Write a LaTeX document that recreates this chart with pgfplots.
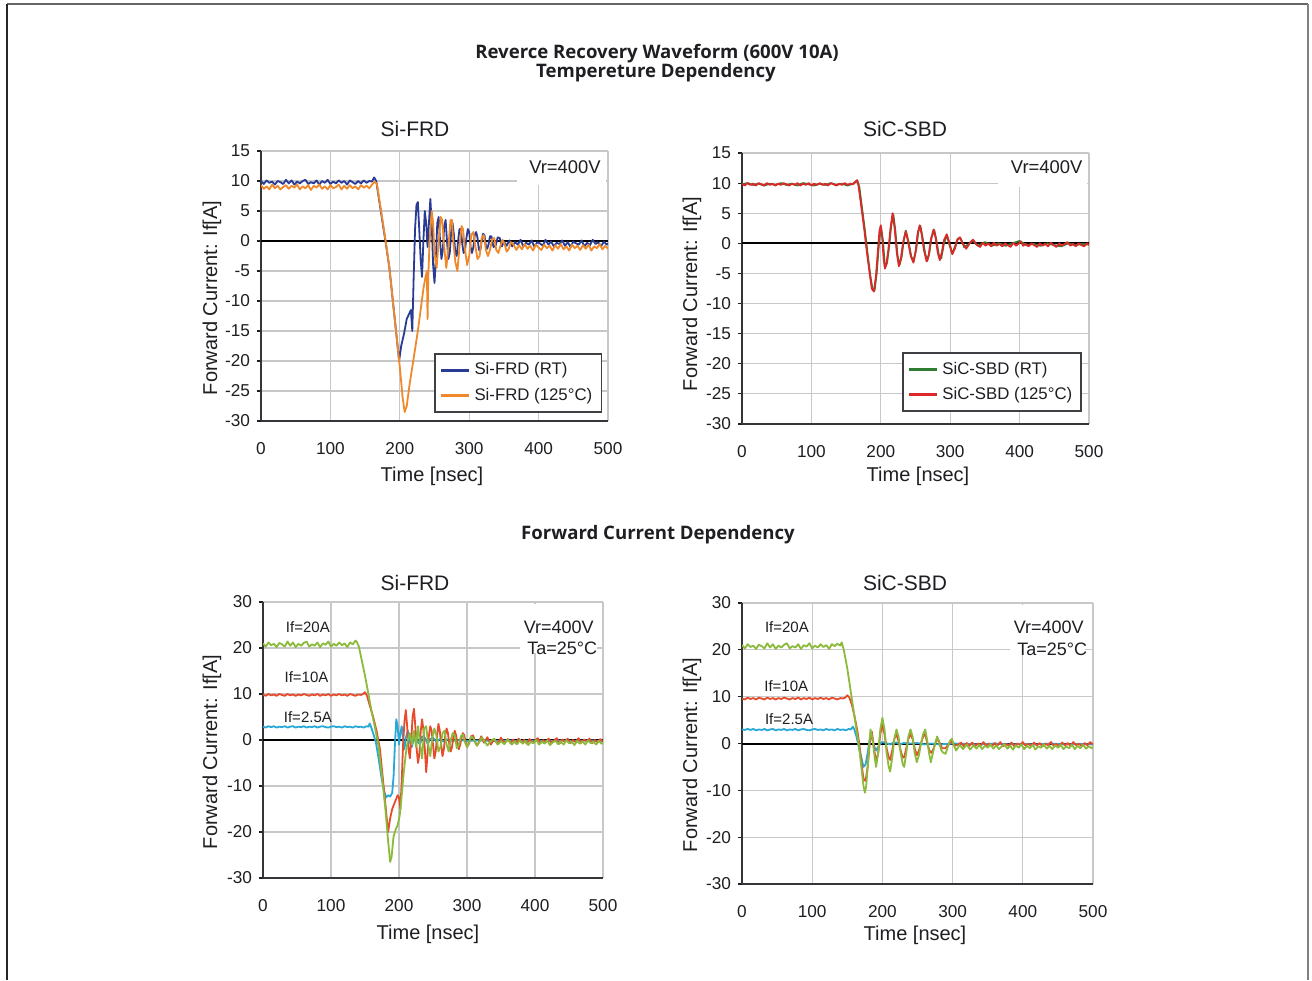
\documentclass[border=0pt]{standalone}
\usepackage{pgfplots}
\pgfplotsset{compat=1.18}
\usepackage{fontspec}
\setmainfont{Liberation Sans}
\newfontfamily\titlefont{Open Sans}
\definecolor{frdrt}{RGB}{40,60,150}
\definecolor{frdht}{RGB}{240,137,42}
\definecolor{sicrt}{RGB}{46,125,50}
\definecolor{sicht}{RGB}{220,40,40}
\definecolor{cA}{RGB}{140,186,58}
\definecolor{cB}{RGB}{230,75,44}
\definecolor{cC}{RGB}{40,168,216}
\definecolor{gridc}{RGB}{200,200,200}
\definecolor{txt}{RGB}{30,30,35}
\pgfplotsset{
  legend image code/.code={\draw[#1,line width=1.3pt] (0pt,0pt) -- (14pt,0pt);},
  wave/.style={
    scale only axis, anchor=south west,
    xmin=0, xmax=500, xtick={0,100,...,500},
    axis lines=left, axis line style={-, draw=txt!90, line width=0.8pt},
    grid=major, grid style={gridc, line width=0.6pt},
    tick align=outside, major tick length=2pt,
    xtick style={draw=none},
    ytick style={draw=txt, line width=0.6pt},
    ticklabel style={font=\fontsize{8.6}{10}\selectfont, text=txt},
    xticklabel style={yshift=-5pt},
    /pgf/number format/assume math mode=true,
    every axis plot/.append style={line width=0.9pt, line join=round},
    legend style={draw=txt!85, line width=0.8pt, font=\fontsize{8.4}{10}\selectfont, text=txt, cells={anchor=west}, row sep=1pt, inner sep=2.5pt},
  },
}
\begin{document}
\begin{tikzpicture}[x=0.5pt,y=0.5pt]
\useasboundingbox (0,0) rectangle (1312,980);
\fill[white] (0,0) rectangle (1312,980);
\draw[black!60, line width=1pt] (7,976) -- (1308,976);
\draw[black!85, line width=1pt] (7,976) -- (7,0);
\draw[black!50, line width=1pt] (1308,976) -- (1308,0);

% headings
\node[font=\titlefont\bfseries\fontsize{9.3}{11}\selectfont, text=txt] at (657,926) {Reverce Recovery Waveform (600V 10A)};
\node[font=\titlefont\bfseries\fontsize{9.3}{11}\selectfont, text=txt] at (656,907) {Tempereture Dependency};
\node[font=\titlefont\bfseries\fontsize{9.3}{11}\selectfont, text=txt] at (658,445) {Forward Current Dependency};

\node[font=\fontsize{10.5}{12}\selectfont, text=txt] at (415,851) {Si-FRD};
\node[font=\fontsize{10.5}{12}\selectfont, text=txt] at (905,851) {SiC-SBD};
\node[font=\fontsize{10.5}{12}\selectfont, text=txt] at (415,397) {Si-FRD};
\node[font=\fontsize{10.5}{12}\selectfont, text=txt] at (905,397) {SiC-SBD};

\node[font=\fontsize{10}{12}\selectfont, text=txt] at (432,504) {Time [nsec]};
\node[font=\fontsize{10}{12}\selectfont, text=txt] at (918,504) {Time [nsec]};
\node[font=\fontsize{10}{12}\selectfont, text=txt] at (428,46) {Time [nsec]};
\node[font=\fontsize{10}{12}\selectfont, text=txt] at (915,45) {Time [nsec]};
\node[font=\fontsize{10}{12}\selectfont, text=txt, rotate=90] at (212,682) {Forward Current: If[A]};
\node[font=\fontsize{10}{12}\selectfont, text=txt, rotate=90] at (692,686) {Forward Current: If[A]};
\node[font=\fontsize{10}{12}\selectfont, text=txt, rotate=90] at (212,228) {Forward Current: If[A]};
\node[font=\fontsize{10}{12}\selectfont, text=txt, rotate=90] at (692,225) {Forward Current: If[A]};

% ---------------- top left
\begin{axis}[wave, at={(130.5pt,279.5pt)}, width=173.5pt, height=135pt,
  ymin=-30, ymax=15, ytick={-30,-25,...,15},
  legend style={at={(rel axis cs:0.983,0.03)}, anchor=south east}]
\fill[white] (axis cs:369,9.3) rectangle (axis cs:497,14.8);
\node[font=\fontsize{9.2}{11}\selectfont, text=txt] at (axis cs:438,12.3) {Vr=400V};
\addplot[black, line width=1pt, forget plot] coordinates {(0,0) (500,0)};
\addplot[frdrt] coordinates {
(0,10.0) (4,9.5) (8,10.1) (12,9.7) (16,9.9) (20,9.4) (24,10.0) (28,9.8) (32,9.5) (36,10.2) (40,9.6) (44,10.1) (48,9.4) (52,9.9) (56,9.6) (60,10.0) (64,10.2) (68,9.5) (72,9.8) (76,9.6) (80,10.1) (84,9.4) (88,10.0) (92,9.7) (96,10.2) (100,9.5) (104,9.9) (108,9.6) (112,10.1) (116,9.7) (120,10.0) (124,9.4) (128,10.1) (132,9.8) (136,9.5) (140,10.0) (144,9.6) (148,10.1) (152,9.7) (156,10.0) (160,9.9) (163,10.6) (166,10.0) (170,7.0) (175,3.2) (180,-0.5) (185,-4.5) (190,-10) (195,-15.5) (199,-20) (202,-17.5) (206,-15.5) (210,-13) (214,-12) (216,-11.5) (218,-15) (220,-6) (222,2) (224,6) (226,6.5) (228,2) (230,-3) (232,-6) (234,0) (236,5) (238,3) (240,-1) (242,3) (244,7) (246,3) (248,-4) (250,-7) (252,-3) (254,3) (256,4) (258,0) (260,-3) (262,-1.5) (264,2.5) (266,3.5) (268,0) (270,-3) (272,-2) (274,1.5) (276,3) (278,1) (280,-2) (282,-2.5) (284,0) (286,2) (288,2) (290,-0.5) (292,-2) (294,-1.5) (296,0.5) (298,2) (300,1.5) (302,-1) (304,-2) (306,-1) (308,1) (310,1.5) (312,0.5) (314,-1.5) (316,-1.5) (318,0) (320,1.2) (322,1) (324,-0.8) (326,-1.3) (328,-0.5) (330,0.8) (332,0.8) (335,-1) (338,-0.8) (341,0.6) (344,0.5) (347,-0.9)
(350,-0.1) (354,-0.8) (358,0.1) (362,-0.9) (366,-0.2) (370,-0.6) (374,0.2) (378,-0.9) (382,-0.3) (386,-0.6) (390,0.1) (394,-1.0) (398,-0.2) (402,-0.4) (406,-0.8) (410,0.2) (414,-0.6) (418,-0.1) (422,-0.9) (426,-0.3) (430,-0.5) (434,0.1) (438,-0.8) (442,-0.2) (446,-1.0) (450,-0.1) (454,-0.4) (458,-0.6) (462,0.1) (466,-0.9) (470,-0.3) (474,-0.7) (478,0.2) (482,-0.5) (486,-0.2) (490,-0.9) (494,-0.1) (498,-0.6) (500,-0.4)};
\addlegendentry{Si-FRD (RT)}
\addplot[frdht] coordinates {
(0,9.3) (4,8.7) (8,9.1) (12,8.6) (16,9.4) (20,8.8) (24,9.2) (28,8.6) (32,9.0) (36,9.3) (40,8.7) (44,9.2) (48,8.9) (52,9.4) (56,8.6) (60,9.1) (64,8.8) (68,9.3) (72,8.5) (76,9.2) (80,8.9) (84,9.4) (88,8.7) (92,9.1) (96,8.6) (100,9.3) (104,8.8) (108,9.0) (112,9.4) (116,8.6) (120,9.2) (124,8.7) (128,9.3) (132,8.8) (136,9.1) (140,8.6) (144,9.3) (148,8.9) (152,9.2) (156,8.8) (160,9.4) (164,9.9) (167,9.5) (171,6.5) (175,3.5) (180,-0.3) (185,-4.5) (190,-10) (195,-15.5) (200,-21) (204,-26) (207,-28.5) (210,-27.5) (214,-24) (218,-21) (222,-18) (226,-15) (230,-11.5) (234,-8) (237,-6) (239,-5) (240,-13) (241,-6) (243,0) (246,5) (248,3) (250,-2) (253,-4.5) (256,0) (259,4) (261,3.5) (264,-1) (267,-4.5) (270,-1) (273,3.5) (275,3.5) (277,0) (280,-3.5) (283,-5) (286,-1) (289,2.5) (291,2) (294,-1.5) (297,-4) (300,-2.5) (303,1) (306,1.5) (309,-1) (312,-3) (315,-2.5) (318,0.5) (321,1) (324,-1.5) (327,-2.5) (330,-1.5) (333,0.3) (336,0.5) (339,-1.5) (342,-2) (345,-0.8) (348,0.2) (351,-0.5) (354,-1.8) (357,-1.3) (360,-0.2)
(364,-0.6) (368,-1.5) (372,-0.7) (376,-1.4) (380,-0.5) (384,-1.3) (388,-0.8) (392,-1.6) (396,-0.6) (400,-1.1) (404,-1.5) (408,-0.6) (412,-1.2) (416,-0.8) (420,-1.6) (424,-0.7) (428,-1.3) (432,-0.5) (436,-1.4) (440,-0.9) (444,-1.6) (448,-0.6) (452,-1.2) (456,-0.8) (460,-1.5) (464,-0.7) (468,-1.3) (472,-0.6) (476,-1.6) (480,-0.9) (484,-1.2) (488,-0.5) (492,-1.4) (496,-0.8) (500,-1.3)};
\addlegendentry{Si-FRD (125°C)}
\end{axis}

% ---------------- top right
\begin{axis}[wave, at={(371pt,278pt)}, width=173.5pt, height=135.5pt,
  ymin=-30, ymax=15, ytick={-30,-25,...,15},
  legend style={at={(rel axis cs:0.98,0.044)}, anchor=south east}]
\fill[white] (axis cs:369,9.3) rectangle (axis cs:497,14.8);
\node[font=\fontsize{9.2}{11}\selectfont, text=txt] at (axis cs:439,12.6) {Vr=400V};
\addplot[black, line width=1pt, forget plot] coordinates {(0,0) (500,0)};
\addplot[sicrt] coordinates {
(0,9.8) (8,10.0) (16,9.7) (24,9.9) (32,9.6) (40,9.9) (48,9.7) (56,10.0) (64,9.7) (72,9.9) (80,9.6) (88,10.0) (96,9.8) (104,9.6) (112,9.9) (120,9.7) (128,10.0) (136,9.7) (144,9.9) (152,9.6) (160,9.9) (166,10.4) (169,9.4) (173,5.8) (177,2.2) (181,-1.8) (185,-5.5) (188,-7.6) (191,-7.8) (194,-5) (197,-0.5) (200,2.8) (203,0.5) (206,-4) (209,-3.2) (212,-0.5) (215,3) (218,4.8) (221,2) (224,-2) (227,-3.6) (230,-2.2) (233,0.5) (236,2.1) (240,0.2) (244,-2.3) (247,-3) (251,-1) (254,2) (257,2.9) (260,1) (264,-1.8) (267,-2.9) (270,-1.5) (273,1) (277,2.2) (280,0.5) (284,-2.2) (287,-2.5) (291,0) (295,1.4) (299,-0.3) (303,-1.7) (307,-0.5) (311,0.8) (315,0.8) (320,-0.6) (326,-0.2) (332,0.5) (340,-0.4) (350,0.2) (360,-0.4) (370,0.0) (380,-0.4) (390,0.0) (400,0.4) (410,-0.3) (420,-0.1) (430,-0.4) (440,0.0) (450,-0.3) (460,-0.5) (470,0.0) (480,-0.3) (490,-0.1) (500,-0.2)};
\addlegendentry{SiC-SBD (RT)}
\addplot[sicht] coordinates {
(0,9.9) (4,9.6) (8,10.0) (12,9.7) (16,9.9) (20,9.6) (24,10.0) (28,9.8) (32,9.6) (36,10.0) (40,9.7) (44,9.9) (48,9.6) (52,9.9) (56,9.7) (60,10.0) (64,9.8) (68,9.6) (72,9.9) (76,9.7) (80,10.0) (84,9.6) (88,9.9) (92,9.7) (96,10.0) (100,9.6) (104,9.9) (108,9.7) (112,10.0) (116,9.7) (120,9.9) (124,9.6) (128,10.0) (132,9.8) (136,9.6) (140,9.9) (144,9.7) (148,10.0) (152,9.7) (156,9.9) (160,9.8) (163,10.2) (166,10.5) (168,9.5) (172,6) (176,2.5) (180,-1.5) (184,-5) (187,-7.5) (190,-8) (193,-5.5) (196,-1) (198,2) (200,3) (202,1) (204,-2.5) (206,-4.2) (208,-3.5) (211,-1) (214,2.5) (217,5) (220,2.5) (223,-1.5) (226,-3.8) (229,-2.5) (232,0) (236,2) (239,0.5) (243,-2) (247,-3.2) (250,-1.5) (253,1.5) (256,3) (259,1.5) (262,-1) (266,-3) (269,-2) (272,0.5) (276,2.3) (279,1) (282,-1.5) (285,-2.8) (288,-1.5) (291,0.5) (295,1.5) (299,0) (303,-1.8) (307,-0.8) (310,0.5) (314,1) (318,0) (323,-0.9) (328,0) (333,0.6) (338,-0.2)
(343,-0.6) (347,0.1) (351,-0.4) (355,0.0) (359,-0.5) (363,0.1) (367,-0.4) (371,-0.1) (375,-0.5) (379,0.0) (383,-0.3) (387,-0.6) (391,0.1) (395,-0.4) (399,0.0) (402,0.3) (405,-0.4) (409,-0.1) (413,-0.5) (417,0.0) (421,-0.3) (425,-0.6) (429,0.0) (433,-0.4) (437,-0.1) (441,-0.5) (445,0.1) (449,-0.3) (453,-0.6) (457,0.0) (461,-0.4) (465,-0.1) (469,0.2) (473,-0.4) (477,-0.1) (481,-0.5) (485,0.0) (489,-0.3) (493,-0.5) (497,0.0) (500,-0.3)};
\addlegendentry{SiC-SBD (125°C)}
\end{axis}

% ---------------- bottom left
\begin{axis}[wave, at={(131.5pt,51pt)}, width=170pt, height=138pt,
  ymin=-30, ymax=30, ytick={-30,-20,...,30}]
\fill[white] (axis cs:378,18.9) rectangle (axis cs:491,29.6);
\node[font=\fontsize{9}{11}\selectfont, text=txt] at (axis cs:435,24.6) {Vr=400V};
\node[font=\fontsize{9}{11}\selectfont, text=txt] at (axis cs:440,20.0) {Ta=25°C};
\node[font=\fontsize{7.5}{9}\selectfont, text=txt] at (axis cs:66,24.6) {If=20A};
\node[font=\fontsize{7.5}{9}\selectfont, text=txt] at (axis cs:64,13.7) {If=10A};
\node[font=\fontsize{7.5}{9}\selectfont, text=txt] at (axis cs:66,5.0) {If=2.5A};
\addplot[black, line width=1pt, forget plot] coordinates {(0,0) (500,0)};
\addplot[cC] coordinates {
(0,2.9) (4,2.7) (8,3.0) (12,2.8) (16,3.0) (20,2.7) (24,2.9) (28,2.8) (32,3.0) (36,2.7) (40,2.9) (44,3.0) (48,2.7) (52,2.9) (56,2.8) (60,3.0) (64,2.7) (68,2.9) (72,2.8) (76,3.0) (80,2.7) (84,2.9) (88,3.0) (92,2.8) (96,2.7) (100,2.9) (104,3.0) (108,2.8) (112,2.9) (116,2.7) (120,3.0) (124,2.8) (128,2.9) (132,2.7) (136,3.0) (140,2.8) (144,2.9) (148,2.7) (152,3.0) (155,2.9) (157,3.6) (159,2.8) (162,1.5) (166,-0.5) (170,-4) (174,-8) (178,-11) (181,-12.5) (184,-12) (187,-12.3) (190,-11.5) (192,-8) (194,-1) (196,4.5) (198,3) (200,-1) (202,1.5) (204,3) (206,0) (208,-2) (210,0.5) (213,2) (216,-0.5) (219,-1.5) (222,0.5) (225,1.5) (228,-0.5) (231,-1) (234,0.8) (238,0.5) (242,-0.8) (246,0.2) (250,0.5) (255,-0.4) (260,0.2) (265,-0.3) (270,0.1) (280,-0.2) (290,0) (300,-0.2) (320,-0.1) (340,-0.2) (360,-0.1) (380,-0.2) (400,-0.1) (420,-0.2) (440,-0.1) (460,-0.2) (480,-0.1) (500,-0.2)};
\addplot[cB] coordinates {
(0,9.9) (4,9.6) (8,10.0) (12,9.7) (16,9.9) (20,9.6) (24,10.0) (28,9.8) (32,9.6) (36,10.0) (40,9.7) (44,9.9) (48,9.6) (52,9.9) (56,9.7) (60,10.0) (64,9.8) (68,9.6) (72,9.9) (76,9.7) (80,10.0) (84,9.6) (88,9.9) (92,9.7) (96,10.0) (100,9.6) (104,9.9) (108,9.7) (112,10.0) (116,9.7) (120,9.9) (124,9.6) (128,10.0) (132,9.8) (136,9.6) (140,9.9) (144,9.8) (147,10.0) (150,10.4) (153,9.6) (157,7.5) (162,5) (167,2) (172,-2) (176,-8) (180,-14) (184,-20) (187,-17) (190,-15) (194,-13.5) (198,-12) (200,-12.5) (202,-15) (204,-9) (206,-1) (208,4) (210,6.5) (212,3) (214,-2) (216,-4) (218,0) (220,5) (222,6.8) (224,3) (226,-2) (228,-5) (230,-3) (232,2) (234,4.5) (236,2) (238,-2) (240,-7) (242,-3) (244,1) (246,3) (248,2) (250,-1) (252,-4) (254,-2.5) (256,1) (258,3.5) (260,2) (262,-1) (264,-3.5) (266,-2) (268,1) (270,2.5) (272,1.5) (274,-1) (276,-2.5) (278,-1.5) (280,0.8) (282,2) (284,1) (286,-1) (288,-2) (290,-1) (292,0.5) (294,1.5) (296,1) (298,-0.5) (300,-1.5) (303,-0.8) (306,0.8) (309,1) (312,-0.5) (315,-1.2) (318,-0.3) (321,0.8) (325,-0.6) (330,0.6) (335,-1.0) (340,0.2) (345,-0.8) (350,0.5) (355,-0.7)
(360,0.2) (364,-0.7) (368,0.1) (372,-0.8) (376,0.3) (380,-0.5) (384,0.0) (388,-0.8) (392,0.2) (396,-0.6) (400,-0.1) (404,0.4) (408,-0.7) (412,0.0) (416,-0.5) (420,0.3) (424,-0.6) (428,-0.1) (432,0.4) (436,-0.8) (440,0.1) (444,-0.4) (448,0.3) (452,-0.7) (456,0.0) (460,-0.5) (464,0.4) (468,-0.6) (472,0.1) (476,-0.3) (480,0.3) (484,-0.7) (488,0.0) (492,-0.5) (496,0.2) (500,-0.3)};
\addplot[cA] coordinates {
(0,21.0) (4,20.3) (8,21.2) (12,20.6) (16,20.9) (20,20.2) (24,21.1) (28,20.8) (32,20.3) (36,21.4) (40,20.5) (44,21.2) (48,20.2) (52,20.9) (56,20.5) (60,21.1) (64,21.4) (68,20.3) (72,20.8) (76,20.5) (80,21.2) (84,20.2) (88,21.0) (92,20.7) (96,21.4) (100,20.3) (104,20.9) (108,20.5) (112,21.2) (116,20.6) (120,21.0) (124,20.2) (128,21.2) (132,20.8) (136,21.6) (138,21.3) (141,20.3) (145,17.5) (150,14) (155,10) (160,6) (165,2.5) (170,-1.5) (175,-8) (180,-15) (184,-22) (187,-26.5) (189,-25.5) (192,-21) (195,-19.5) (198,-18.5) (201,-16.5) (204,-12) (207,-7) (210,-3) (213,0) (216,1.5) (219,-1) (222,2) (225,-1.5) (228,3) (231,-1) (234,-4) (237,2.5) (240,3) (243,-1) (246,-3.5) (249,0.5) (252,2.5) (255,1) (258,-2.5) (261,-1.5) (264,1.5) (267,2) (270,-1) (273,-2.5) (276,0) (279,1.5) (282,1) (285,-1.8) (288,-1) (291,0.8) (294,1.2) (297,-0.5) (300,-1.5) (303,-0.5) (306,0.8) (310,0.2) (314,-1.2) (318,-0.5) (322,0.6) (326,-0.3) (330,-1.2) (335,-0.2) (340,0.3) (345,-1) (350,-0.3) (355,-0.9) (360,0.1)
(366,-1.0) (370,-0.3) (374,-0.9) (378,0.0) (382,-0.8) (386,-0.2) (390,-1.1) (394,-0.4) (398,-0.7) (402,0.0) (406,-1.0) (410,-0.3) (414,-0.8) (418,-0.1) (422,-1.1) (426,-0.5) (430,-0.2) (434,-0.9) (438,-0.3) (442,-1.0) (446,-0.1) (450,-0.7) (454,-0.4) (458,-1.1) (462,-0.2) (466,-0.8) (470,-0.3) (474,-1.0) (478,-0.1) (482,-0.7) (486,-0.4) (490,-1.0) (494,-0.2) (498,-0.8) (500,-0.5)};
\end{axis}

% ---------------- bottom right
\begin{axis}[wave, at={(371pt,48pt)}, width=175.5pt, height=140.5pt,
  ymin=-30, ymax=30, ytick={-30,-20,...,30}]
\fill[white] (axis cs:382,18.9) rectangle (axis cs:488,29.6);
\node[font=\fontsize{9}{11}\selectfont, text=txt] at (axis cs:437,24.9) {Vr=400V};
\node[font=\fontsize{9}{11}\selectfont, text=txt] at (axis cs:442,20.2) {Ta=25°C};
\node[font=\fontsize{7.5}{9}\selectfont, text=txt] at (axis cs:64,24.9) {If=20A};
\node[font=\fontsize{7.5}{9}\selectfont, text=txt] at (axis cs:63,12.3) {If=10A};
\node[font=\fontsize{7.5}{9}\selectfont, text=txt] at (axis cs:67,5.2) {If=2.5A};
\addplot[black, line width=1pt, forget plot] coordinates {(0,0) (500,0)};
\addplot[cC] coordinates {
(0,3.0) (4,2.9) (8,3.1) (12,2.9) (16,3.1) (20,2.8) (24,3.0) (28,2.9) (32,3.1) (36,2.8) (40,3.0) (44,3.1) (48,2.8) (52,3.0) (56,2.9) (60,3.1) (64,2.8) (68,3.0) (72,2.9) (76,3.1) (80,2.8) (84,3.0) (88,3.1) (92,2.9) (96,2.8) (100,3.0) (104,3.1) (108,2.9) (112,3.0) (116,2.8) (120,3.1) (124,2.9) (128,3.0) (132,2.8) (136,3.1) (140,2.9) (144,3.0) (148,2.8) (152,3.1) (155,3.0) (158,3.6) (160,3.0) (163,1.5) (166,-0.5) (170,-3) (173,-5) (176,-4.5) (179,-2) (182,1) (185,1.5) (188,-0.5) (191,-1.5) (195,-0.5) (199,0.3) (203,0.2) (207,0.0) (211,-0.2) (215,0.1) (220,0.2) (225,-0.2) (230,0.1) (240,0) (250,0.1) (260,-0.2) (270,0.0) (280,-0.2) (300,0.0) (320,-0.1) (340,-0.2) (360,0.0) (380,-0.2) (400,-0.1) (420,-0.2) (440,0.0) (460,-0.2) (480,-0.1) (500,-0.2)};
\addplot[cB] coordinates {
(0,9.6) (4,9.4) (8,9.8) (12,9.5) (16,9.7) (20,9.4) (24,9.8) (28,9.6) (32,9.4) (36,9.8) (40,9.5) (44,9.7) (48,9.4) (52,9.7) (56,9.5) (60,9.8) (64,9.6) (68,9.4) (72,9.7) (76,9.5) (80,9.8) (84,9.4) (88,9.7) (92,9.5) (96,9.8) (100,9.4) (104,9.7) (108,9.5) (112,9.8) (116,9.5) (120,9.7) (124,9.4) (128,9.8) (132,9.6) (136,9.4) (140,9.7) (144,9.6) (147,9.8) (150,10.3) (153,9.8) (157,8) (160,6) (164,3) (167,0) (170,-4) (173,-7.5) (176,-8) (179,-5) (182,0) (185,2.5) (188,-1) (191,-4) (194,-2) (197,2) (200,4) (203,2) (206,-1) (209,-3) (211,-3.5) (214,-1.5) (217,1) (220,2) (223,0.5) (226,-1.5) (229,-3) (231,-3) (234,-1) (237,1) (240,2) (243,1) (246,-1) (249,-2.5) (252,-1.5) (255,0) (258,1.5) (261,2) (264,0) (267,-1.5) (270,-2) (273,-1) (276,0.3) (279,1) (282,0) (285,-1) (290,-1) (295,0) (299,0.5) (303,-0.5) (308,-0.2)
(312,0.2) (316,-0.6) (320,0.1) (324,-0.5) (328,0.2) (332,-0.6) (336,0.0) (340,-0.4) (344,0.3) (348,-0.5) (352,0.0) (356,-0.6) (360,0.1) (364,-0.4) (368,0.3) (372,-0.6) (376,-0.1) (380,-0.5) (384,0.2) (388,-0.6) (392,0.0) (396,-0.3) (400,0.3) (404,-0.5) (408,0.0) (412,-0.6) (416,0.2) (420,-0.4) (424,0.1) (428,-0.6) (432,0.0) (436,-0.4) (440,0.3) (444,-0.5) (448,-0.1) (452,-0.6) (456,0.2) (460,-0.4) (464,0.1) (468,-0.5) (472,0.3) (476,-0.4) (480,0.0) (484,-0.6) (488,0.1) (492,-0.4) (496,0.3) (500,-0.2)};
\addplot[cA] coordinates {
(0,21.0) (4,20.3) (8,21.2) (12,20.6) (16,20.9) (20,20.2) (24,21.1) (28,20.8) (32,20.3) (36,21.4) (40,20.5) (44,21.2) (48,20.2) (52,20.9) (56,20.5) (60,21.1) (64,21.4) (68,20.3) (72,20.8) (76,20.5) (80,21.2) (84,20.2) (88,21.0) (92,20.7) (96,21.4) (100,20.3) (104,20.9) (108,20.5) (112,21.2) (116,20.6) (120,21.0) (124,20.2) (128,21.2) (132,20.8) (136,21.3) (140,20.9) (142,21.6) (145,20) (150,16) (155,11) (160,6) (164,2) (167,-1) (170,-5) (173,-9) (175,-10.5) (177,-9) (180,-3) (183,3) (186,1) (189,-3) (191,-5) (194,-2) (197,3) (200,5.5) (203,3) (206,-2) (209,-5) (211,-6) (214,-3) (217,1) (220,3) (223,1.5) (226,-2) (229,-4.5) (231,-5) (234,-2) (237,1.5) (240,3) (243,1.5) (246,-2) (249,-4) (252,-2.5) (255,0) (258,2) (261,3) (264,0.5) (267,-2.5) (269,-4) (272,-2) (275,0) (278,1.5) (281,0) (284,-1.5) (287,-2) (290,-2.2) (293,-0.8) (296,0.5) (299,1) (302,-0.5) (305,-1.5) (310,-0.3) (315,-1.2) (320,-0.2) (325,-1.3) (330,-0.4)
(334,-1.1) (338,-0.3) (342,-1.2) (346,-0.5) (350,-0.9) (354,-0.2) (358,-1.1) (362,-0.4) (366,-1.2) (370,-0.6) (374,-0.2) (378,-1.1) (382,-0.5) (386,-1.3) (390,-0.4) (394,-0.9) (398,-0.2) (402,-1.2) (406,-0.5) (410,-1.0) (414,-0.3) (418,-1.3) (422,-0.6) (426,-0.9) (430,-0.2) (434,-1.1) (438,-0.5) (442,-1.2) (446,-0.4) (450,-0.9) (454,-0.3) (458,-1.2) (462,-0.6) (466,-1.0) (470,-0.3) (474,-1.2) (478,-0.5) (482,-1.0) (486,-0.3) (490,-1.1) (494,-0.6) (498,-1.0) (500,-0.7)};
\end{axis}
\end{tikzpicture}
\end{document}
